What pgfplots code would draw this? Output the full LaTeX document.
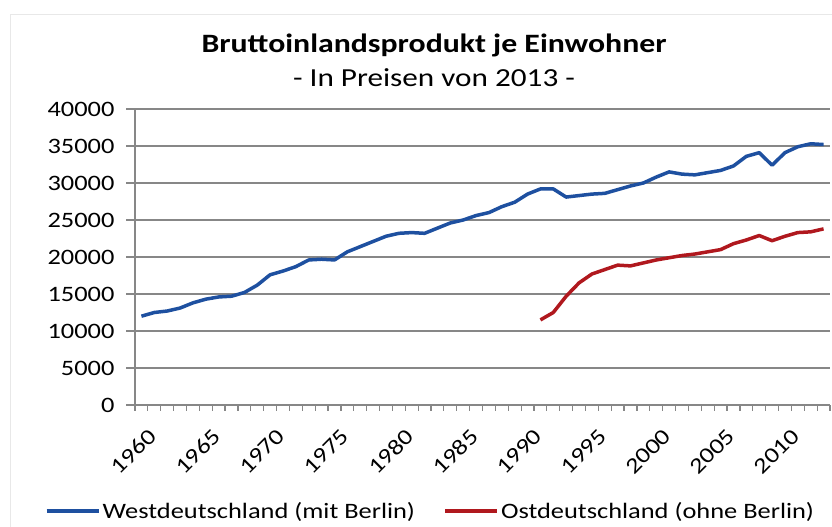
\documentclass[border=0pt]{standalone}
\usepackage{fontspec}
\setmainfont{Carlito}[FakeStretch=1.2]
\usepackage{pgfplots}
\pgfplotsset{compat=1.18}
\definecolor{westblue}{RGB}{30,80,160}
\definecolor{ostred}{RGB}{176,24,30}
\definecolor{gridgray}{RGB}{135,135,135}
\begin{document}
\begin{tikzpicture}
\path[use as bounding box] (0pt,0pt) rectangle (832pt,527pt);
\draw[gray!18, line width=1pt] (10pt,0pt) -- (10pt,512pt) -- (832pt,512pt);
\node[anchor=base, font=\fontsize{26.5}{29}\selectfont\bfseries] at (434pt,474pt) {Bruttoinlandsprodukt je Einwohner};
\node[anchor=base, font=\fontsize{26}{29}\selectfont] at (434pt,440pt) {- In Preisen von 2013 -};
\begin{axis}[
  at={(135pt,122pt)}, anchor=origin,
  scale only axis, width=695pt, height=296pt,
  xmin=1959.5, xmax=2013.5, ymin=0, ymax=40000,
  axis lines*=left,
  axis line style={gridgray, line width=1.2pt},
  xtick={1960,1965,...,2010},
  minor xtick={1959.5,1960.5,...,2013.5},
  major x tick style={draw=none},
  minor x tick style={gridgray, line width=1.2pt},
  minor tick length=6pt,
  ytick={0,5000,...,40000},
  major y tick style={gridgray, line width=1.2pt},
  major tick length=9pt,
  tick align=outside,
  ymajorgrids,
  major grid style={gridgray, line width=1.5pt},
  scaled y ticks=false,
  /pgf/number format/.cd, set thousands separator={}, 1000 sep={}, assume math mode=true,
  /pgfplots/.cd,
  x tick label style={/pgf/number format/1000 sep={}},
  tick label style={font=\fontsize{22}{24}\selectfont, text=black},
  yticklabel style={xshift=-8pt},
  xticklabel style={rotate=45, anchor=north east, yshift=-10pt, xshift=-2pt},
  legend columns=2,
  legend style={at={(axis description cs:0.425,-0.358)}, anchor=center, draw=none,
    font=\fontsize{22}{24}\selectfont, text=black, inner sep=0pt,
    nodes={inner xsep=2pt},
    /tikz/every even column/.append style={column sep=26pt}},
  legend image code/.code={\draw[line width=4pt] (0pt,0pt) -- (52pt,0pt);},
]
\addplot[westblue, line width=3.5pt, line join=round] coordinates {
(1960,12000)(1961,12500)(1962,12700)(1963,13100)(1964,13800)(1965,14300)(1966,14600)(1967,14700)(1968,15200)(1969,16200)
(1970,17600)(1971,18100)(1972,18700)(1973,19600)(1974,19700)(1975,19600)(1976,20700)(1977,21400)(1978,22100)(1979,22800)
(1980,23200)(1981,23300)(1982,23200)(1983,23900)(1984,24600)(1985,25000)(1986,25600)(1987,26000)(1988,26800)(1989,27400)
(1990,28500)(1991,29200)(1992,29200)(1993,28100)(1994,28300)(1995,28500)(1996,28600)(1997,29100)(1998,29600)(1999,30000)
(2000,30800)(2001,31500)(2002,31200)(2003,31100)(2004,31400)(2005,31700)(2006,32300)(2007,33600)(2008,34100)(2009,32400)
(2010,34100)(2011,34900)(2012,35300)(2013,35200)};
\addlegendentry{Westdeutschland (mit Berlin)}
\addplot[ostred, line width=3.5pt, line join=round] coordinates {
(1991,11500)(1992,12500)(1993,14700)(1994,16500)(1995,17700)(1996,18300)(1997,18900)(1998,18800)(1999,19200)
(2000,19600)(2001,19900)(2002,20200)(2003,20400)(2004,20700)(2005,21000)(2006,21800)(2007,22300)(2008,22900)(2009,22200)
(2010,22800)(2011,23300)(2012,23400)(2013,23800)};
\addlegendentry{Ostdeutschland (ohne Berlin)}
\end{axis}
\end{tikzpicture}
\end{document}
